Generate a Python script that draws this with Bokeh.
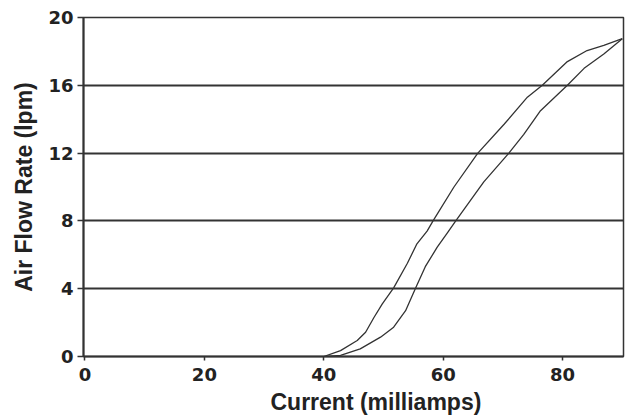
from bokeh.plotting import figure
from bokeh.models import Range1d, FixedTicker, Title
from bokeh.embed import file_html
from bokeh.resources import INLINE

# Upper (left) branch of the hysteresis loop
up_current = [40.0, 42.8, 45.6, 47.0, 48.4, 49.8, 51.7, 54.0, 55.6, 57.3, 58.3, 61.8, 65.8, 70.2, 74.1, 76.6, 80.8, 84.1, 86.9, 90.0]
up_flow = [0.0, 0.35, 0.94, 1.43, 2.3, 3.1, 4.05, 5.5, 6.65, 7.4, 8.0, 10.0, 12.0, 13.7, 15.3, 16.0, 17.4, 18.05, 18.35, 18.75]

# Lower (right) branch
down_current = [40.5, 42.8, 46.1, 49.5, 51.7, 53.7, 55.4, 57.0, 59.0, 60.7, 62.1, 66.8, 71.0, 73.5, 76.3, 80.8, 83.6, 86.9, 90.0]
down_flow = [0.0, 0.06, 0.45, 1.14, 1.73, 2.7, 4.05, 5.3, 6.45, 7.3, 8.0, 10.3, 12.0, 13.1, 14.5, 16.0, 17.0, 17.85, 18.75]

x_ticks = [0, 20, 40, 60, 80]
y_ticks = [0, 4, 8, 12, 16, 20]
x_title = "Current (milliamps)"
y_title = "Air Flow Rate (lpm)"

TICK_FONT = "DejaVu Sans"
TITLE_FONT = "Liberation Sans"
DARK = "#333333"
TEXT = "#222222"

p = figure(width=626, height=418, output_backend="svg", toolbar_location=None,
           x_range=Range1d(-0.25, 90.2), y_range=Range1d(0, 20),
           min_border_left=83, min_border_right=3, min_border_top=17, min_border_bottom=62)

p.background_fill_color = "white"
p.border_fill_color = "white"
p.outline_line_color = DARK
p.outline_line_width = 1.5

p.line(up_current, up_flow, line_color=DARK, line_width=1.3)
p.line(down_current, down_flow, line_color=DARK, line_width=1.3)

p.xgrid.grid_line_color = None
p.ygrid.grid_line_color = DARK
p.ygrid.grid_line_width = 2
p.ygrid.ticker = FixedTicker(ticks=y_ticks)

p.xaxis.ticker = FixedTicker(ticks=x_ticks)
p.yaxis.ticker = FixedTicker(ticks=y_ticks)

for ax in (p.xaxis[0], p.yaxis[0]):
    ax.axis_line_color = DARK
    ax.axis_line_width = 2
    ax.major_tick_line_color = DARK
    ax.major_tick_line_width = 1.5
    ax.minor_tick_line_color = None
    ax.major_tick_in = 0
    ax.major_label_text_font = TICK_FONT
    ax.major_label_text_font_style = "bold"
    ax.major_label_text_font_size = "18px"
    ax.major_label_text_color = TEXT
    ax.axis_label_text_font = TITLE_FONT
    ax.axis_label_text_font_style = "bold"
    ax.axis_label_text_font_size = "23px"
    ax.axis_label_text_color = TEXT

p.yaxis.axis_label = y_title
p.xaxis.major_tick_out = 4
p.yaxis.major_tick_out = 6
p.xaxis.major_label_standoff = 7
p.yaxis.major_label_standoff = 4
p.yaxis.axis_label_standoff = 8

# x-axis title sits right of centre in the original: a left-aligned title with an offset
p.add_layout(Title(text=x_title, align="left", offset=187, standoff=6,
                   text_font=TITLE_FONT, text_font_style="bold", text_font_size="23px",
                   text_color=TEXT), "below")

open("out.html", "w").write(file_html(p, INLINE))
